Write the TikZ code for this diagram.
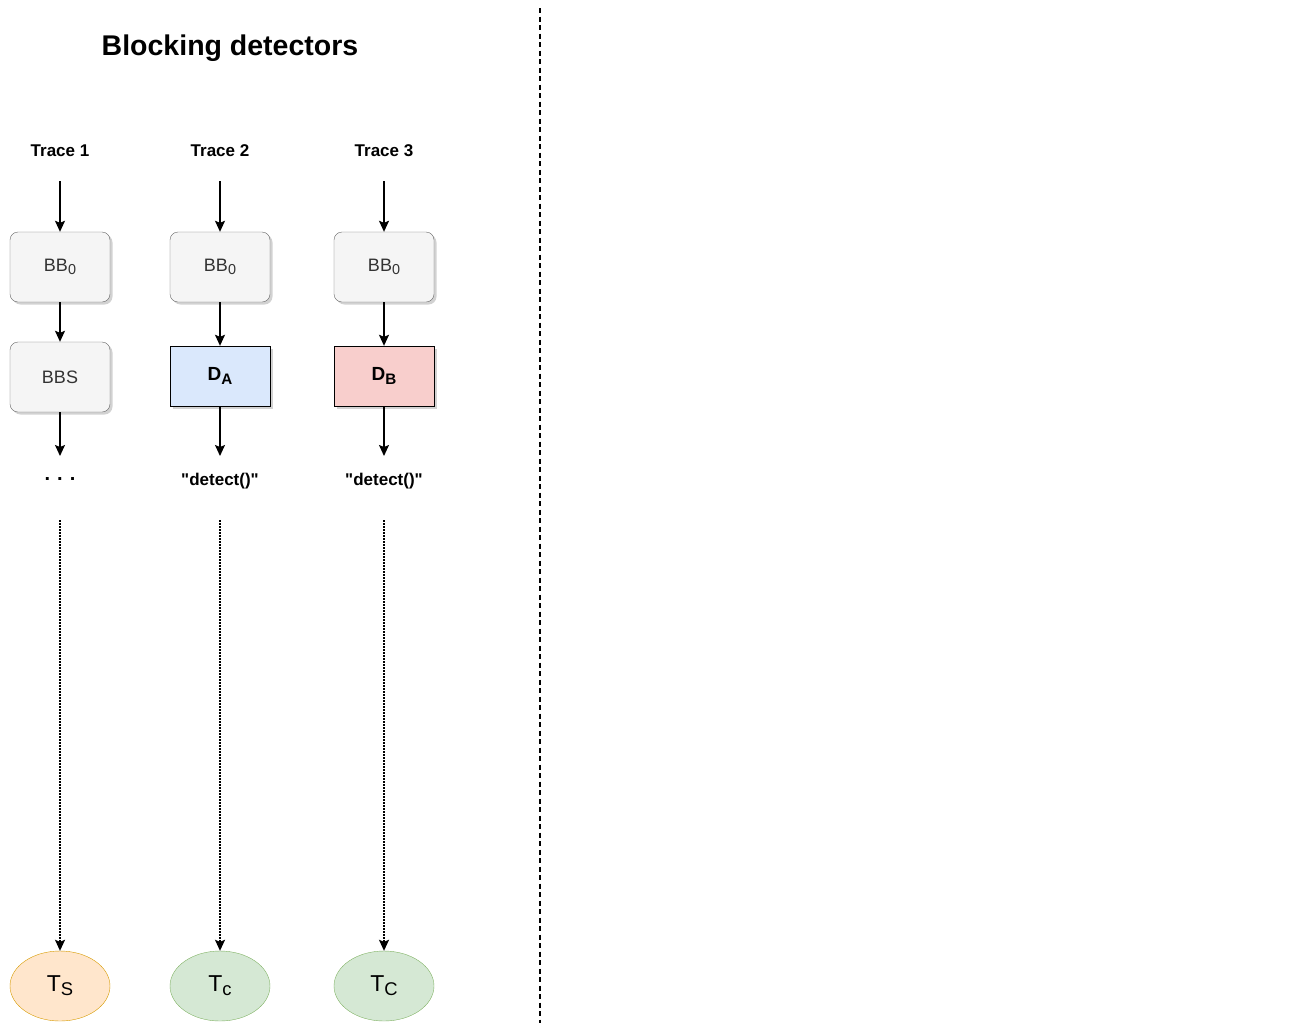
\documentclass[tikz,border=0pt]{standalone}
\usepackage{fontspec}
\setmainfont{Liberation Sans}
\usetikzlibrary{arrows.meta,shadows,shapes.geometric}
\definecolor{bbfill}{HTML}{F5F5F5}
\definecolor{bbline}{HTML}{666666}
\definecolor{bbtext}{HTML}{333333}
\definecolor{dafill}{HTML}{DAE8FC}
\definecolor{dbfill}{HTML}{F8CECC}
\definecolor{tsfill}{HTML}{FFE6CC}
\definecolor{tsline}{HTML}{D79B00}
\definecolor{tcfill}{HTML}{D5E8D4}
\definecolor{tcline}{HTML}{82B366}
\newcommand{\sub}[1]{\raisebox{-0.35ex}{\scalebox{0.8}{#1}}}
\tikzset{
    arr/.style={-{Stealth[length=11pt,width=10pt,inset=2pt]}, line width=1.4pt},
    dotarr/.style={arr, dash pattern=on 1.5pt off 1.5pt},
    bbbox/.style={draw=bbline, fill=bbfill, rounded corners=8pt, minimum width=100pt,
        minimum height=70pt, text=bbtext, font=\fontsize{18}{20}\selectfont,
        drop shadow={shadow xshift=2.5pt, shadow yshift=-2.5pt, fill=black!35}},
    detbox/.style={draw=black, minimum width=100pt, minimum height=60pt,
        font=\bfseries\fontsize{19}{21}\selectfont,
        drop shadow={shadow xshift=2.5pt, shadow yshift=-2.5pt, fill=black!35}},
    tnode/.style={ellipse, draw, minimum width=100pt, minimum height=70pt,
        font=\fontsize{23}{25}\selectfont},
    lbl/.style={font=\bfseries\fontsize{17}{19}\selectfont}
}
\begin{document}
\begin{tikzpicture}[x=1pt,y=-1pt]
    \useasboundingbox (0,0) rectangle (1311,1023);
    % Title and separator
    \node[font=\bfseries\fontsize{28.5}{32}\selectfont] (title) at (230,48) {Blocking detectors};
    \coordinate (septop) at (540,8); \coordinate (sepbot) at (540,1023);
    \draw[line width=1.4pt, dash pattern=on 5pt off 3.5pt] (septop) -- (sepbot);

    % Trace labels
    \node[lbl] (trace1) at (60,151) {Trace 1};
    \node[lbl] (trace2) at (220,151) {Trace 2};
    \node[lbl] (trace3) at (384,151) {Trace 3};
    \coordinate (in1) at (60,181); \coordinate (in2) at (220,181);
    \coordinate (in3) at (384,181);

    % Blocks
    \node[bbbox] (bb1) at (60,267) {BB\sub{0}};
    \node[bbbox] (bb2) at (220,267) {BB\sub{0}};
    \node[bbbox] (bb3) at (384,267) {BB\sub{0}};
    \node[bbbox] (bbs) at (60,377) {BBS};
    \node[detbox, fill=dafill] (da) at (220,376) {D\sub{A}};
    \node[detbox, fill=dbfill] (db) at (384,376) {D\sub{B}};

    % Outputs
    \coordinate (out1) at (60,456); \coordinate (out2) at (220,456);
    \coordinate (out3) at (384,456);
    \node[font=\bfseries\fontsize{20}{22}\selectfont] (dots) at (60,479) {.\hspace{7pt}.\hspace{7pt}.};
    \node[lbl] (det2) at (220,481) {\textquotedbl detect()\textquotedbl};
    \node[lbl] (det3) at (384,481) {\textquotedbl detect()\textquotedbl};
    \coordinate (low1) at (60,520); \coordinate (low2) at (220,520);
    \coordinate (low3) at (384,520);

    % Targets
    \node[tnode, fill=tsfill, draw=tsline] (ts) at (60,986) {T\sub{S}};
    \node[tnode, fill=tcfill, draw=tcline] (tc2) at (220,986) {T\sub{c}};
    \node[tnode, fill=tcfill, draw=tcline] (tc3) at (384,986) {T\sub{C}};

    % Arrows
    \draw[arr] (in1) -- (bb1);
    \draw[arr] (in2) -- (bb2);
    \draw[arr] (in3) -- (bb3);
    \draw[arr] (bb1) -- (bbs);
    \draw[arr] (bb2) -- (da);
    \draw[arr] (bb3) -- (db);
    \draw[arr] (bbs) -- (out1);
    \draw[arr] (da) -- (out2);
    \draw[arr] (db) -- (out3);
    \draw[dotarr] (low1) -- (ts);
    \draw[dotarr] (low2) -- (tc2);
    \draw[dotarr] (low3) -- (tc3);
\end{tikzpicture}
\end{document}
